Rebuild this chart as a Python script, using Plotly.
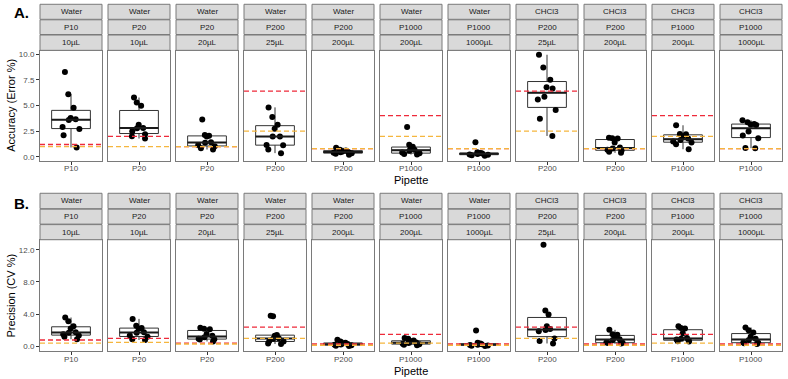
import numpy as np
import plotly.graph_objects as go

W, H = 788, 379

# ---------------- data ----------------
solvents = ["Water"] * 7 + ["CHCl3"] * 4
pipettes = ["P10", "P20", "P20", "P200", "P200", "P1000", "P1000", "P200", "P200", "P1000", "P1000"]
volumes = ["10µL", "10µL", "20µL", "25µL", "200µL", "200µL", "1000µL", "25µL", "200µL", "200µL", "1000µL"]

acc_water_p10_10 = [0.91, 2.10, 2.70, 2.90, 3.58, 3.66, 3.77, 4.77, 6.09, 8.26]
acc_water_p20_10 = [1.78, 2.00, 2.19, 2.50, 2.78, 2.81, 3.13, 4.97, 5.29, 5.77]
acc_water_p20_20 = [0.71, 0.84, 1.03, 1.15, 1.36, 1.42, 1.97, 2.06, 2.13, 3.64]
acc_water_p200_25 = [0.36, 0.71, 1.13, 1.16, 1.97, 1.97, 2.74, 3.13, 3.87, 4.81]
acc_water_p200_200 = [0.20, 0.30, 0.35, 0.40, 0.45, 0.48, 0.55, 0.62, 0.70, 0.88]
acc_water_p1000_200 = [0.22, 0.28, 0.34, 0.42, 0.60, 0.70, 0.90, 0.97, 1.18, 2.90]
acc_water_p1000_1000 = [0.10, 0.15, 0.20, 0.24, 0.28, 0.32, 0.35, 0.38, 0.45, 1.42]
acc_chcl3_p200_25 = [2.03, 3.71, 4.55, 5.58, 5.84, 6.64, 6.77, 7.51, 8.70, 9.93]
acc_chcl3_p200_200 = [0.39, 0.50, 0.62, 0.70, 0.80, 0.92, 1.40, 1.78, 1.82, 1.86]
acc_chcl3_p1000_200 = [0.74, 1.23, 1.40, 1.50, 1.65, 1.78, 2.00, 2.19, 2.22, 3.07]
acc_chcl3_p1000_1000 = [0.84, 0.86, 1.81, 2.07, 2.46, 3.10, 3.15, 3.20, 3.36, 3.55]

prec_water_p10_10 = [0.90, 1.20, 1.37, 1.52, 1.70, 1.77, 2.22, 2.51, 3.13, 3.59]
prec_water_p20_10 = [0.80, 0.90, 1.20, 1.35, 1.70, 1.76, 2.20, 2.30, 2.56, 3.42]
prec_water_p20_20 = [0.62, 0.85, 0.90, 0.95, 1.15, 1.33, 1.53, 2.13, 2.19, 2.31]
prec_water_p200_25 = [0.30, 0.37, 0.60, 0.66, 0.95, 1.03, 1.32, 1.43, 3.75, 3.80]
prec_water_p200_200 = [0.05, 0.10, 0.15, 0.20, 0.25, 0.30, 0.38, 0.45, 0.60, 0.83]
prec_water_p1000_200 = [0.15, 0.22, 0.28, 0.33, 0.42, 0.50, 0.62, 0.73, 0.95, 1.05]
prec_water_p1000_1000 = [0.05, 0.08, 0.12, 0.17, 0.22, 0.26, 0.30, 0.35, 0.45, 1.98]
prec_chcl3_p200_25 = [0.37, 0.66, 0.99, 1.90, 2.05, 2.15, 2.51, 3.96, 4.46, 12.62]
prec_chcl3_p200_200 = [0.35, 0.42, 0.45, 0.50, 0.80, 0.90, 1.12, 1.45, 1.50, 2.06]
prec_chcl3_p1000_200 = [0.60, 0.65, 0.75, 0.85, 0.95, 1.05, 1.65, 2.22, 2.30, 2.52]
prec_chcl3_p1000_1000 = [0.30, 0.40, 0.45, 0.50, 0.80, 0.95, 1.20, 1.73, 2.02, 2.35]

acc_red = [1.2, 2.0, 1.0, 6.4, 0.8, 4.0, 0.8, 6.4, 0.8, 4.0, 0.8]
acc_orange = [1.0, 1.0, 1.0, 2.5, 0.8, 2.0, 0.8, 2.5, 0.8, 2.0, 0.8]
prec_red = [0.8, 1.0, 0.4, 2.4, 0.3, 1.5, 0.3, 2.4, 0.3, 1.5, 0.3]
prec_orange = [0.4, 0.5, 0.3, 1.0, 0.15, 0.4, 0.15, 1.0, 0.15, 0.4, 0.15]

acc_tickvals = [0, 2.5, 5, 7.5, 10]
acc_ticktext = ["0.0", "2.5", "5.0", "7.5", "10.0"]
prec_tickvals = [0, 4, 8, 12]
prec_ticktext = ["0.0", "4.0", "8.0", "12.0"]

acc_data = [acc_water_p10_10, acc_water_p20_10, acc_water_p20_20, acc_water_p200_25,
            acc_water_p200_200, acc_water_p1000_200, acc_water_p1000_1000,
            acc_chcl3_p200_25, acc_chcl3_p200_200, acc_chcl3_p1000_200, acc_chcl3_p1000_1000]
prec_data = [prec_water_p10_10, prec_water_p20_10, prec_water_p20_20, prec_water_p200_25,
             prec_water_p200_200, prec_water_p1000_200, prec_water_p1000_1000,
             prec_chcl3_p200_25, prec_chcl3_p200_200, prec_chcl3_p1000_200, prec_chcl3_p1000_1000]

# ---------------- layout helpers ----------------
FONT = "Liberation Sans, Arial, sans-serif"
RED = "#EE2A3A"
ORANGE = "#F5B63E"
BORDER = "#7a7a7a"
STRIP_FILL = "#D9D9D9"


def fx(p):
    return p / W


def fy(p):
    return 1 - p / H


panels = [
    dict(label="A.", label_y=12, title="Accuracy (Error %)", data=acc_data, red=acc_red, orange=acc_orange,
         yrange=[-0.39, 10.32], tv=acc_tickvals, tt=acc_ticktext, top=50, bot=160.7,
         strips=[(3.3, 18.4), (18.9, 33.7), (34.2, 49.6)], xlab_y=180, tick_y=168),
    dict(label="B.", label_y=204, title="Precision (CV %)", data=prec_data, red=prec_red, orange=prec_orange,
         yrange=[-0.62, 13.24], tv=prec_tickvals, tt=prec_ticktext, top=240, bot=352.3,
         strips=[(193.3, 208.8), (209.3, 224.3), (224.8, 240)], xlab_y=372, tick_y=360),
]

LEFT0, STEP, PW = 40, 68, 62
BOXW = 0.75
XR = [-0.6, 0.6]
bx0 = 0.5 - (BOXW / 2) / (XR[1] - XR[0])
bx1 = 0.5 + (BOXW / 2) / (XR[1] - XR[0])

fig = go.Figure()
layout = {}
shapes = []
annotations = []

for pi, P in enumerate(panels):
    for i in range(11):
        n = pi * 11 + i + 1
        sfx = "" if n == 1 else str(n)
        xa, ya = "x" + sfx, "y" + sfx
        left = LEFT0 + STEP * i
        vals = np.array(P["data"][i], dtype=float)
        q1, med, q3 = np.percentile(vals, [25, 50, 75])
        iqr = q3 - q1
        lo = vals[vals >= q1 - 1.5 * iqr].min()
        hi = vals[vals <= q3 + 1.5 * iqr].max()

        fig.add_trace(go.Box(
            x=[pipettes[i]], q1=[q1], median=[med], q3=[q3], lowerfence=[lo], upperfence=[hi],
            width=BOXW, fillcolor="white", line=dict(color="#333333", width=1),
            whiskerwidth=0, boxpoints=False, xaxis=xa, yaxis=ya, showlegend=False, hoverinfo="skip"))
        fig.add_trace(go.Box(
            x=[pipettes[i]] * len(vals), y=vals, width=BOXW, boxpoints="all", jitter=0.6, pointpos=0,
            fillcolor="rgba(0,0,0,0)", line=dict(color="rgba(0,0,0,0)", width=0),
            marker=dict(color="black", size=6), xaxis=xa, yaxis=ya, showlegend=False, hoverinfo="skip"))

        first = (i == 0)
        layout["xaxis" + sfx] = dict(
            domain=[fx(left), fx(left + PW)], anchor=ya, type="category", range=XR,
            showline=True, mirror=True, linecolor=BORDER, linewidth=1, showgrid=False, zeroline=False,
            ticks="outside", ticklen=3, tickcolor="#333333", tickwidth=1, showticklabels=False,
            fixedrange=True)
        layout["yaxis" + sfx] = dict(
            domain=[fy(P["bot"]), fy(P["top"])], anchor=xa, range=P["yrange"],
            showline=True, mirror=True, linecolor=BORDER, linewidth=1, showgrid=False, zeroline=False,
            tickvals=P["tv"], ticktext=P["tt"], showticklabels=first,
            ticks="outside" if first else "", ticklen=3, tickcolor="#333333", tickwidth=1,
            tickfont=dict(size=8, color="#4d4d4d", family=FONT), fixedrange=True)

        xdom = ("x" if n == 1 else "x" + str(n)) + " domain"
        # thick median
        shapes.append(dict(type="line", xref=xdom, yref=ya, x0=bx0, x1=bx1, y0=med, y1=med,
                           line=dict(color="#1a1a1a", width=2)))
        # reference lines
        shapes.append(dict(type="line", xref=xdom, yref=ya, x0=0, x1=1, y0=P["red"][i], y1=P["red"][i],
                           line=dict(color=RED, width=1.3, dash="5px,3px")))
        shapes.append(dict(type="line", xref=xdom, yref=ya, x0=0, x1=1, y0=P["orange"][i], y1=P["orange"][i],
                           line=dict(color=ORANGE, width=1.3, dash="5px,3px")))

        # x tick label (category)
        annotations.append(dict(xref=xdom, yref="paper", x=0.5, y=fy(P["tick_y"]), text=pipettes[i],
                                showarrow=False, xanchor="center", yanchor="middle",
                                font=dict(size=8, color="#4d4d4d", family=FONT)))

        # strips
        texts = [solvents[i], pipettes[i], volumes[i]]
        for (t0, t1), txt in zip(P["strips"], texts):
            shapes.append(dict(type="rect", xref="paper", yref="paper",
                               x0=fx(left), x1=fx(left + PW), y0=fy(t1), y1=fy(t0),
                               fillcolor=STRIP_FILL, line=dict(color=BORDER, width=1)))
            annotations.append(dict(xref="paper", yref="paper", x=fx(left + PW / 2), y=fy((t0 + t1) / 2),
                                    text=txt, showarrow=False, xanchor="center", yanchor="middle",
                                    font=dict(size=8, color="#1a1a1a", family=FONT)))

    # panel label
    annotations.append(dict(xref="paper", yref="paper", x=fx(12), y=fy(P["label_y"]), text="<b>" + P["label"] + "</b>",
                            showarrow=False, xanchor="left", yanchor="middle",
                            font=dict(size=15, color="black", family=FONT)))
    # y title
    annotations.append(dict(xref="paper", yref="paper", x=fx(11), y=fy((P["top"] + P["bot"]) / 2),
                            text=P["title"], textangle=-90, showarrow=False, xanchor="center", yanchor="middle",
                            font=dict(size=11, color="black", family=FONT)))
    # x title
    annotations.append(dict(xref="paper", yref="paper", x=fx(411), y=fy(P["xlab_y"]), text="Pipette",
                            showarrow=False, xanchor="center", yanchor="middle",
                            font=dict(size=11, color="black", family=FONT)))

fig.update_layout(
    width=W, height=H, autosize=False,
    margin=dict(l=0, r=0, t=0, b=0, pad=0),
    paper_bgcolor="white", plot_bgcolor="white",
    boxmode="overlay", showlegend=False,
    shapes=shapes, annotations=annotations,
    font=dict(family=FONT),
    **layout,
)

fig.write_html("out.html", config={"displayModeBar": False},
               post_script="document.body.style.margin='0';document.body.style.overflow='hidden';")
